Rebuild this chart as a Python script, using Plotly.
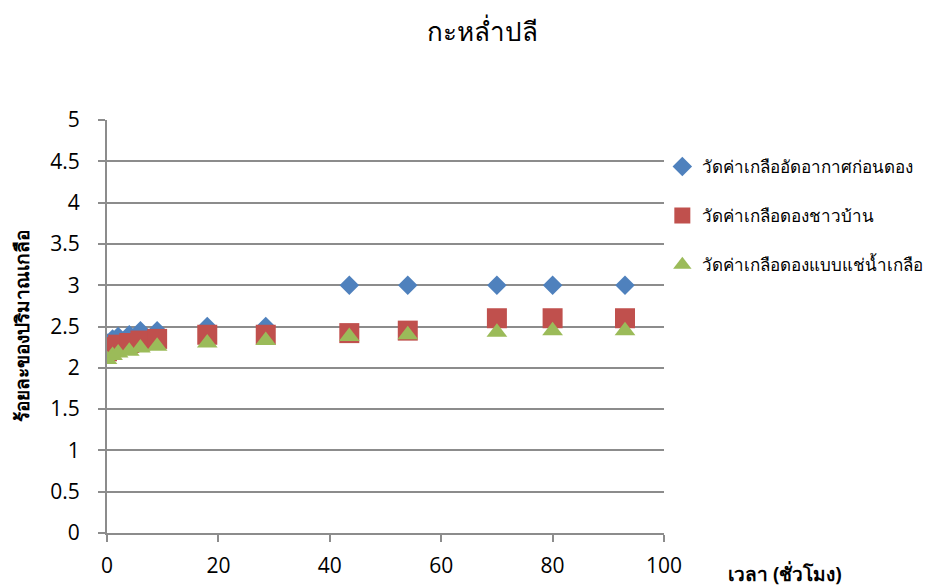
import plotly.graph_objects as go

# Time of measurement (hours)
hours = [0, 1, 2, 4, 6, 9, 18, 28.5, 43.5, 54, 70, 80, 93]

# Percentage of salt, per salting method
series_names = [
    "วัดค่าเกลืออัดอากาศก่อนดอง",
    "วัดค่าเกลือดองชาวบ้าน",
    "วัดค่าเกลือดองแบบแช่น้ำเกลือ",
]
salt_vacuum = [2.3, 2.35, 2.38, 2.4, 2.45, 2.45, 2.5, 2.5, 3.0, 3.0, 3.0, 3.0, 3.0]
salt_village = [2.2, 2.25, 2.28, 2.3, 2.33, 2.35, 2.4, 2.4, 2.42, 2.45, 2.6, 2.6, 2.6]
salt_brine = [2.1, 2.15, 2.18, 2.2, 2.24, 2.26, 2.3, 2.33, 2.38, 2.4, 2.43, 2.45, 2.45]

y_ticks = [0, 0.5, 1, 1.5, 2, 2.5, 3, 3.5, 4, 4.5, 5]
x_ticks = [0, 20, 40, 60, 80, 100]

FONT = "Open Sans, Tahoma, Noto Sans, sans-serif"
GRID = "#8c8c8c"

fig = go.Figure()
styles = [
    dict(symbol="diamond", color="#4F81BD", size=15),
    dict(symbol="square", color="#C0504D", size=20),
    dict(symbol="triangle-up", color="#9BBB59", size=18),
]
for i, (name, ys, st) in enumerate(zip(series_names, [salt_vacuum, salt_village, salt_brine], styles)):
    fig.add_trace(go.Scatter(
        x=hours, y=ys, name=name, mode="markers",
        legendgroup=f"g{i}",
        marker=dict(symbol=st["symbol"], color=st["color"], size=st["size"], line=dict(width=0)),
    ))

fig.update_layout(
    width=927, height=587,
    margin=dict(l=107, r=263, t=120, b=54, autoexpand=False),
    paper_bgcolor="white", plot_bgcolor="white",
    font=dict(family=FONT, color="black", size=20),
    title=dict(text="กะหล่ำปลี", x=0.521, xanchor="center", y=0.945, yanchor="middle",
               font=dict(size=26, family=FONT)),
    showlegend=True,
    legend=dict(x=0.997, xanchor="left", y=0.93, yanchor="top", xref="paper",
                font=dict(size=17, family=FONT), tracegroupgap=24,
                itemwidth=30, bgcolor="rgba(0,0,0,0)"),
    xaxis=dict(range=[0, 100], tickvals=x_ticks, showgrid=False, zeroline=False,
               showline=True, linecolor=GRID, linewidth=2, ticks="outside",
               ticklen=7, tickcolor=GRID, tickwidth=2, tickfont=dict(size=21),
               ticklabelstandoff=6),
    yaxis=dict(range=[0, 5], tickvals=y_ticks, showgrid=True, gridcolor=GRID, gridwidth=2,
               zeroline=False, showline=True, linecolor=GRID, linewidth=2,
               ticks="outside", ticklen=7, tickcolor=GRID, tickwidth=2,
               tickfont=dict(size=21), ticklabelstandoff=14,
               title=dict(text="<b>ร้อยละของปริมาณเกลือ</b>", font=dict(size=19), standoff=16)),
)

# x-axis title sits to the right, below the end of the axis
fig.add_annotation(text="<b>เวลา (ชั่วโมง)</b>", xref="paper", yref="paper",
                   x=(726 - 107) / (664 - 107), y=-(574 - 533) / (533 - 120),
                   xanchor="left", yanchor="middle",
                   showarrow=False, font=dict(size=19, family=FONT))

fig.write_html("out.html")
